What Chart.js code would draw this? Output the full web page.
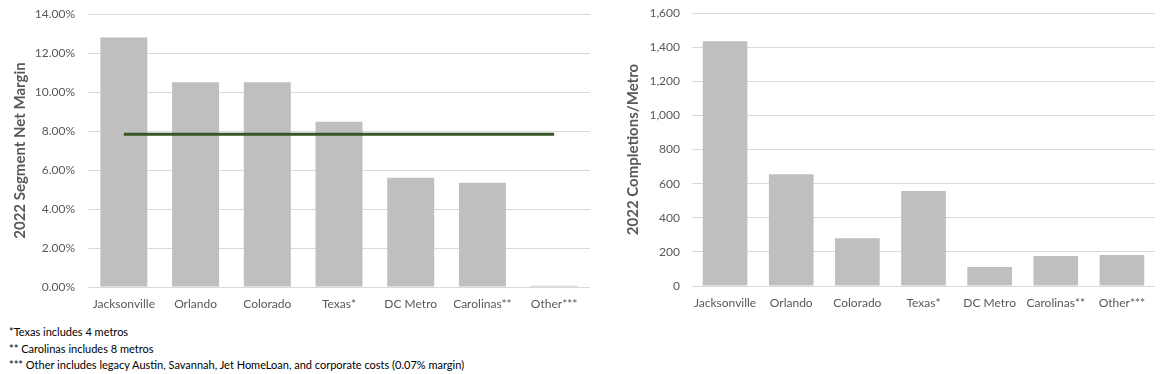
<!DOCTYPE html>
<html>
<head>
<meta charset="utf-8">
<script src="https://cdn.jsdelivr.net/npm/chart.js@4"></script>
<style>
  html, body { margin: 0; padding: 0; background: #fff; }
  body { width: 1162px; height: 374px; position: relative; overflow: hidden; font-family: Lato, "Liberation Sans", sans-serif; }
  #c1 { position: absolute; left: 0; top: 0; }
  #c2 { position: absolute; left: 600px; top: 0; }
  #notes { position: absolute; left: 9px; top: 324px; font-size: 11px; line-height: 16.5px; color: #000; white-space: nowrap; }
</style>
</head>
<body>
<canvas id="c1" width="600" height="320"></canvas>
<canvas id="c2" width="562" height="320"></canvas>
<div id="notes">
  <div>*Texas includes 4 metros</div>
  <div>** Carolinas includes 8 metros</div>
  <div>*** Other includes legacy Austin, Savannah, Jet HomeLoan, and corporate costs (0.07% margin)</div>
</div>
<script>
const categories = ["Jacksonville", "Orlando", "Colorado", "Texas*", "DC Metro", "Carolinas**", "Other***"];
const netMargin = [12.8, 10.5, 10.5, 8.48, 5.6, 5.35, 0.07];
const avgMargin = [7.83, 7.83, 7.83, 7.83, 7.83, 7.83, 7.83];
const completions = [1435, 655, 280, 557, 112, 176, 182];
const marginTicks = { max: 14, step: 2 };
const completionTicks = { max: 1600, step: 200 };

const FONT = "Lato, 'Liberation Sans', sans-serif";
const TXT = "#595959";
const GRID = "#d9d9d9";
const BAR = "#bfbfbf";

function makeOpts(cfg) {
  return {
    responsive: false,
    animation: false,
    layout: { padding: { left: 0, right: cfg.padRight, top: cfg.padTop, bottom: 0 } },
    plugins: { legend: { display: false }, tooltip: { enabled: false } },
    scales: {
      x: {
        grid: { display: false, drawTicks: false },
        border: { display: false },
        ticks: { color: TXT, font: { family: FONT, size: 12 }, padding: cfg.xPad, maxRotation: 0, autoSkip: false },
        afterFit: s => { s.height = cfg.xHeight; }
      },
      y: {
        min: 0, max: cfg.max,
        grid: { color: GRID, lineWidth: 1, drawTicks: true, tickLength: cfg.yGap, tickColor: "rgba(0,0,0,0)" },
        border: { display: false },
        ticks: { stepSize: cfg.step, color: TXT, font: { family: FONT, size: 12 }, padding: 0, callback: cfg.fmt },
        title: { display: true, text: cfg.title, color: TXT, font: { family: FONT, size: 15, weight: "bold" }, padding: { top: cfg.titlePad, bottom: 0 } },
        afterFit: s => { s.width = cfg.yWidth; }
      }
    }
  };
}

new Chart(document.getElementById("c1"), {
  data: {
    labels: categories,
    datasets: [
      { type: "line", data: avgMargin, borderColor: "#375623", borderWidth: 3, pointRadius: 0, order: 0, fill: false },
      { type: "bar", data: netMargin, backgroundColor: BAR, categoryPercentage: 1, barPercentage: 0.655, order: 1 }
    ]
  },
  options: makeOpts({
    padRight: 10, padTop: 14, xHeight: 33, xPad: 10, yWidth: 88, yGap: 13, titlePad: 11,
    max: marginTicks.max, step: marginTicks.step,
    title: "2022 Segment Net Margin",
    fmt: v => v.toFixed(2) + "%"
  })
});

new Chart(document.getElementById("c2"), {
  type: "bar",
  data: {
    labels: categories,
    datasets: [
      { data: completions, backgroundColor: BAR, categoryPercentage: 1, barPercentage: 0.675 }
    ]
  },
  options: makeOpts({
    padRight: 7, padTop: 13, xHeight: 34, xPad: 10, yWidth: 92, yGap: 12, titlePad: 24,
    max: completionTicks.max, step: completionTicks.step,
    title: "2022 Completions/Metro",
    fmt: v => v.toLocaleString("en-US")
  })
});
</script>
</body>
</html>
